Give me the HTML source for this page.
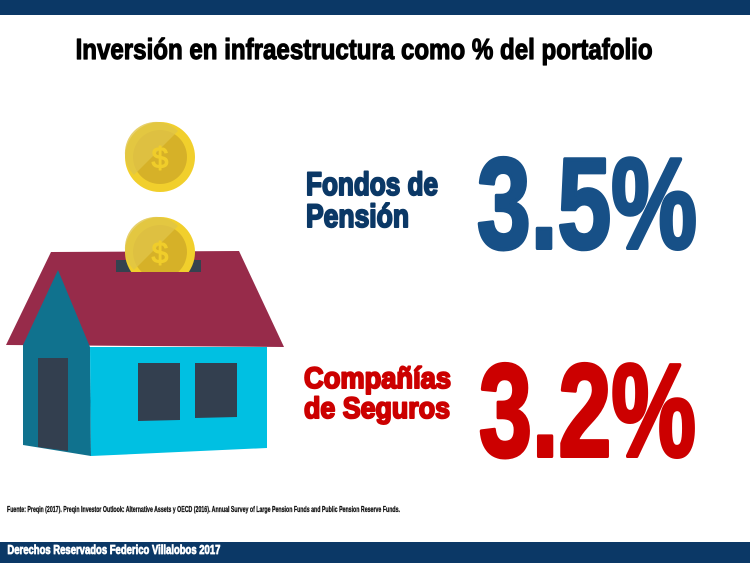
<!DOCTYPE html>
<html>
<head>
<meta charset="utf-8">
<style>
  html,body{margin:0;padding:0;background:#fff;}
  svg{display:block;}
  text{font-family:"Liberation Sans Narrow","Liberation Sans",sans-serif;font-weight:bold;stroke-linejoin:round;}
</style>
</head>
<body>
<svg width="750" height="563" viewBox="0 0 750 563" xmlns="http://www.w3.org/2000/svg">
  <rect x="0" y="0" width="750" height="563" fill="#ffffff"/>
  <!-- top bar -->
  <rect x="0" y="0" width="750" height="15" fill="#0b3866"/>
  <!-- bottom bar -->
  <rect x="0" y="542" width="750" height="21" fill="#0b3866"/>

  <!-- title -->
  <text x="75.6" y="59" font-size="28.5" fill="#000" stroke="#000" stroke-width="1.2" textLength="577" lengthAdjust="spacingAndGlyphs">Inversión en infraestructura como % del portafolio</text>

  <!-- top coin -->
  <g>
    <circle cx="160" cy="157" r="35" fill="#f1cf2c"/>
    <circle cx="160" cy="157" r="27" fill="#d6b128"/>
    <path d="M134,175 L178,131 A27,27 0 0,0 134,175 Z" fill="#e0c447" opacity="0.8"/>
    <text x="160" y="168" font-size="30" fill="#f0cd2a" stroke="#f0cd2a" stroke-width="1" text-anchor="middle" style="font-family:'Liberation Sans',sans-serif;font-weight:normal">$</text>
  </g>

  <!-- roof -->
  <polygon points="51,252 239,251 284,347 6,345" fill="#972b4a"/>
  <!-- slot -->
  <rect x="116" y="260" width="85" height="12" fill="#34424f"/>

  <!-- second coin (in slot) -->
  <clipPath id="cc"><rect x="100" y="200" width="120" height="72"/></clipPath>
  <g clip-path="url(#cc)">
    <circle cx="160" cy="252" r="35" fill="#f1cf2c"/>
    <circle cx="160" cy="252" r="27" fill="#d6b128"/>
    <path d="M134,270 L178,226 A27,27 0 0,0 134,270 Z" fill="#e0c447" opacity="0.8"/>
    <text x="160" y="263" font-size="30" fill="#f0cd2a" stroke="#f0cd2a" stroke-width="1" text-anchor="middle" style="font-family:'Liberation Sans',sans-serif;font-weight:normal">$</text>
  </g>

  <!-- gable & side wall -->
  <polygon points="58,270 90,347 91,456 23,445 23,345" fill="#10728e"/>
  <!-- door -->
  <polygon points="38,358 68,358 68,451 38,447" fill="#333f4f"/>
  <!-- front wall -->
  <polygon points="90,347 267,347 267,448 91,456" fill="#00c0e2"/>
  <!-- windows -->
  <polygon points="138,363 180,363 180,420 138,421" fill="#333f4f"/>
  <polygon points="195,363 237,363 237,417 195,418" fill="#333f4f"/>

  <!-- Fondos de Pensión -->
  <text x="306" y="195" font-size="32" fill="#0b3866" stroke="#0b3866" stroke-width="2" textLength="132" lengthAdjust="spacingAndGlyphs">Fondos de</text>
  <text x="306" y="227" font-size="32" fill="#0b3866" stroke="#0b3866" stroke-width="2" textLength="103" lengthAdjust="spacingAndGlyphs">Pensión</text>
  <text x="477" y="248" font-size="129" fill="#175087" stroke="#175087" stroke-width="4" textLength="220" lengthAdjust="spacingAndGlyphs">3.5%</text>

  <!-- Compañías de Seguros -->
  <text x="304" y="388" font-size="29.5" fill="#cc0000" stroke="#cc0000" stroke-width="2" textLength="147" lengthAdjust="spacingAndGlyphs">Compañías</text>
  <text x="304" y="418" font-size="29.5" fill="#cc0000" stroke="#cc0000" stroke-width="2" textLength="146" lengthAdjust="spacingAndGlyphs">de Seguros</text>
  <text x="479" y="456" font-size="132" fill="#cc0000" stroke="#cc0000" stroke-width="4" textLength="217" lengthAdjust="spacingAndGlyphs">3.2%</text>

  <!-- footnote -->
  <text x="7" y="512" font-size="8.5" fill="#111" stroke="#111" stroke-width="0.3" textLength="393" lengthAdjust="spacingAndGlyphs">Fuente: Preqin (2017). Preqin Investor Outlook: Alternative Assets y OECD (2016). Annual Survey of Large Pension Funds and Public Pension Reserve Funds.</text>

  <!-- footer -->
  <text x="7.4" y="554" font-size="12.5" fill="#ffffff" stroke="#ffffff" stroke-width="0.8" textLength="213" lengthAdjust="spacingAndGlyphs">Derechos Reservados Federico Villalobos 2017</text>
</svg>
</body>
</html>
